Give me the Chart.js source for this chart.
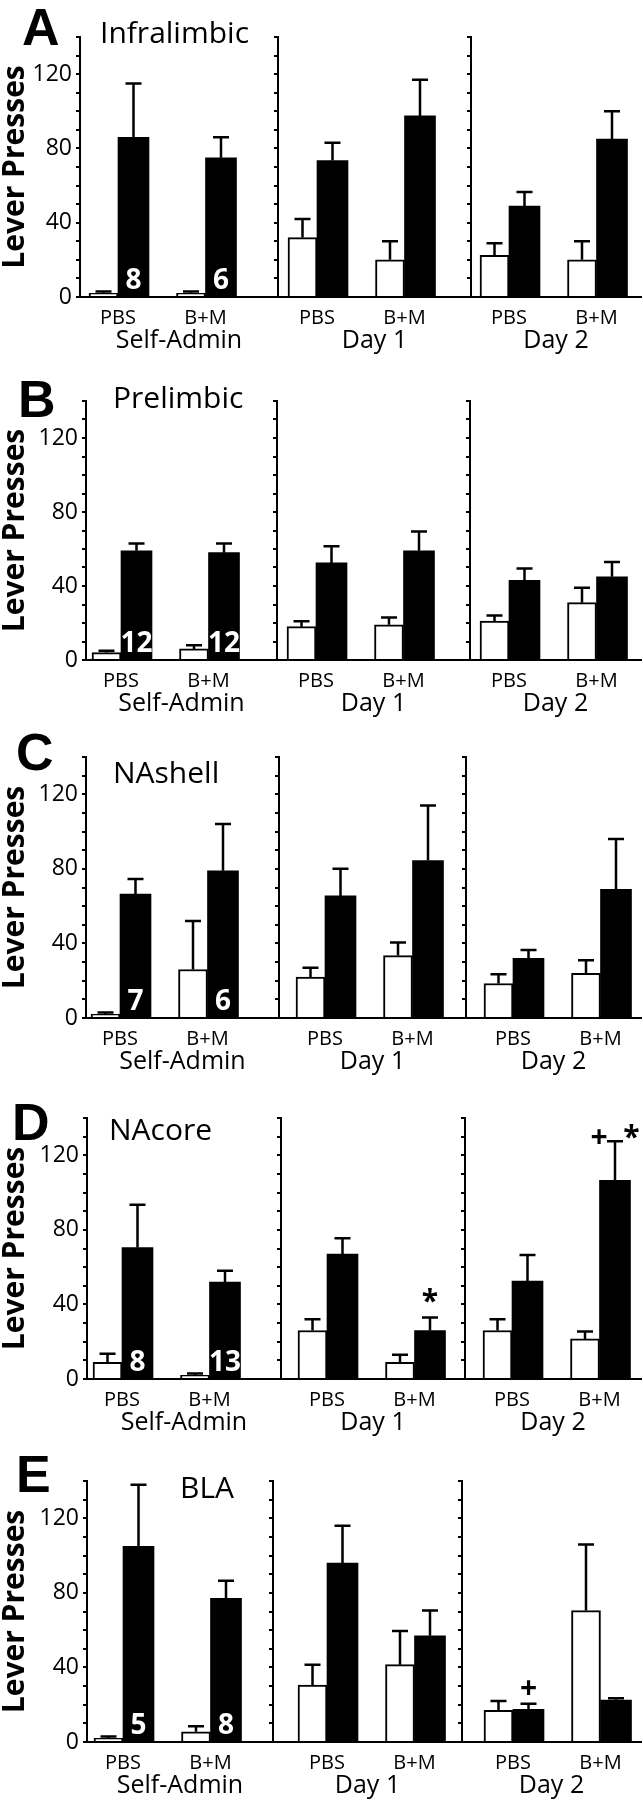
<!DOCTYPE html>
<html>
<head>
<meta charset="utf-8">
<script src="https://cdn.jsdelivr.net/npm/chart.js@4.4.1/dist/chart.umd.min.js"></script>
<style>
  html, body { margin: 0; padding: 0; background: #fff; }
  #fig { position: relative; width: 643px; height: 1800px; overflow: hidden; }
  #fig canvas { position: absolute; left: 0; }
</style>
</head>
<body>
<div id="fig"></div>
<script>
// ---- data ----
const letters = ['A', 'B', 'C', 'D', 'E'];
const regions = ['Infralimbic', 'Prelimbic', 'NAshell', 'NAcore', 'BLA'];
const phases = ['Self-Admin', 'Day 1', 'Day 2'];
const groups = ['PBS', 'B+M'];
const yLabels = [0, 40, 80, 120];

// [phase][group] : open bars, filled bars, and their error (+SEM)
const ilOpen = [[2, 2], [32, 20], [22.5, 20]];
const ilOpenErr = [[1, 1], [10, 10], [6.5, 10]];
const ilFilled = [[86, 75], [73.5, 97.5], [49, 85]];
const ilFilledErr = [[29, 11], [9.5, 19.5], [7.5, 15]];
const ilN = [8, 6];

const plOpen = [[4, 6], [18, 19], [21, 31]];
const plOpenErr = [[1, 2], [3, 4], [3, 8]];
const plFilled = [[59, 58], [52.5, 59], [43, 45]];
const plFilledErr = [[4, 5], [9, 10.5], [6.5, 8]];
const plN = [12, 12];

const shOpen = [[2, 26], [22, 33.5], [18.5, 24]];
const shOpenErr = [[1, 26], [5, 7], [5, 7]];
const shFilled = [[66.5, 79], [65.5, 84.5], [32, 69]];
const shFilledErr = [[8, 25], [14.5, 29.5], [4.5, 27]];
const shN = [7, 6];

const coOpen = [[9, 2], [26, 9], [26, 21.5]];
const coOpenErr = [[4.5, 1], [6, 4], [6, 4]];
const coFilled = [[70.5, 52], [67, 26], [52.5, 106.5]];
const coFilledErr = [[23, 6], [8.5, 7], [14, 21]];
const coN = [8, 13];

const blaOpen = [[2, 5.5], [30.5, 41.5], [17, 70.5]];
const blaOpenErr = [[1, 3], [11, 18], [5, 35.5]];
const blaFilled = [[105, 77], [96, 57], [17.5, 22.5]];
const blaFilledErr = [[33, 9.5], [20, 13.5], [3, 1]];
const blaN = [5, 8];

// significance marks above filled bars
const marks = [
  { region: 3, phase: 1, group: 1, text: '*' },
  { region: 3, phase: 2, group: 1, text: '+  *' },
  { region: 4, phase: 2, group: 0, text: '+' },
];

const panels = [
  { open: ilOpen, openErr: ilOpenErr, filled: ilFilled, filledErr: ilFilledErr, n: ilN },
  { open: plOpen, openErr: plOpenErr, filled: plFilled, filledErr: plFilledErr, n: plN },
  { open: shOpen, openErr: shOpenErr, filled: shFilled, filledErr: shFilledErr, n: shN },
  { open: coOpen, openErr: coOpenErr, filled: coFilled, filledErr: coFilledErr, n: coN },
  { open: blaOpen, openErr: blaOpenErr, filled: blaFilled, filledErr: blaFilledErr, n: blaN },
];

// ---- layout (page pixels) ----
const FONT = '"Open Sans", sans-serif';
const PADT = 40, XH = 62, GAP = 87.5, END = 641;
const markDy = [0, 12, 0];
const rowLayout = [
  { top: 37, zero: 297, axes: [80, 278, 471], joins: [118, 317, 509], letter: [22, 45], title: [100, 43] },
  { top: 401, zero: 660, axes: [86, 277, 470], joins: [121, 316, 509], letter: [18, 417], title: [113, 408] },
  { top: 757, zero: 1018, axes: [86, 279, 466], joins: [120, 325, 513], letter: [16, 770], title: [113, 783] },
  { top: 1118, zero: 1379, axes: [87, 281, 465], joins: [122, 327, 512], letter: [12, 1140], title: [109, 1140] },
  { top: 1481, zero: 1742, axes: [87, 273, 462], joins: [123, 327, 513], letter: [16, 1492], title: [180, 1498] },
];

const fig = document.getElementById('fig');

function decor(r, p, canvasTop) {
  const L = rowLayout[r];
  return {
    id: 'decor' + r + p,
    afterDatasetsDraw(chart) {
      const ctx = chart.ctx, y = chart.scales.y;
      ctx.save();
      ctx.strokeStyle = '#000';
      ctx.lineWidth = 2.5;
      chart.data.datasets.forEach((ds, di) => {
        chart.getDatasetMeta(di).data.forEach((bar, i) => {
          const t = y.getPixelForValue(ds.data[i].y + ds.err[i]);
          ctx.beginPath();
          ctx.moveTo(bar.x, bar.y);
          ctx.lineTo(bar.x, t);
          ctx.moveTo(bar.x - 8, t);
          ctx.lineTo(bar.x + 8, t);
          ctx.stroke();
        });
      });
      ctx.restore();
    },
    afterDraw(chart) {
      const ctx = chart.ctx, y = chart.scales.y;
      const filledMeta = chart.getDatasetMeta(1);
      const filledDs = chart.data.datasets[1];
      ctx.save();
      ctx.textAlign = 'center';
      ctx.textBaseline = 'alphabetic';
      if (p === 0) {
        ctx.fillStyle = '#fff';
        ctx.font = 'bold 28px ' + FONT;
        filledMeta.data.forEach((bar, i) => {
          ctx.fillText(String(panels[r].n[i]), bar.x, y.getPixelForValue(0) - 8);
        });
        ctx.fillStyle = '#000';
        ctx.textAlign = 'left';
        ctx.font = 'bold 52px "Liberation Sans", Arial, sans-serif';
        ctx.fillText(letters[r], L.letter[0], L.letter[1] - canvasTop);
        ctx.font = '30px ' + FONT;
        ctx.fillText(regions[r], L.title[0], L.title[1] - canvasTop);
      }
      ctx.fillStyle = '#000';
      ctx.textAlign = 'center';
      ctx.font = 'bold 30px ' + FONT;
      marks.forEach((m, k) => {
        if (m.region !== r || m.phase !== p) return;
        const bar = filledMeta.data[m.group];
        const t = y.getPixelForValue(filledDs.data[m.group].y + filledDs.err[m.group]);
        ctx.fillText(m.text, bar.x, t - 6 + markDy[k]);
      });
      ctx.restore();
    }
  };
}

function makeChart(r, p) {
  const L = rowLayout[r];
  const P = panels[r];
  const left = L.axes[p];
  const right = p < 2 ? L.axes[p + 1] : END;
  const join = L.joins[p];
  const top = L.top - PADT;
  const h = L.zero - L.top + PADT + XH;
  const cv = document.createElement('canvas');
  cv.width = 643;
  cv.height = h;
  cv.style.top = top + 'px';
  fig.appendChild(cv);
  const pts = vals => groups.map((g, i) => ({ x: i + 1, y: vals[p][i] }));

  new Chart(cv, {
    type: 'bar',
    data: {
      datasets: [
        {
          label: 'open', data: pts(P.open), err: P.openErr[p],
          backgroundColor: '#fff', borderColor: '#000', borderWidth: 2, barThickness: 29,
        },
        {
          label: 'filled', data: pts(P.filled), err: P.filledErr[p],
          backgroundColor: '#000', borderColor: '#000', borderWidth: 0, barThickness: 31,
        }
      ]
    },
    options: {
      responsive: false,
      animation: false,
      events: [],
      layout: { padding: { left: 0, right: 643 - right, top: PADT, bottom: 0 } },
      plugins: { legend: { display: false }, tooltip: { enabled: false } },
      scales: {
        x: {
          type: 'linear',
          offset: false,
          min: 1 - (join - left) / GAP,
          max: 2 + (right - join - GAP) / GAP,
          afterBuildTicks: s => { s.ticks = groups.map((g, i) => ({ value: i + 1 })); },
          afterFit: s => { s.height = XH; },
          grid: { display: false, drawTicks: false },
          border: { display: true, color: '#000', width: 2, z: 1 },
          ticks: {
            callback: v => groups[v - 1],
            color: '#000', font: { family: FONT, size: 20 }, padding: 9,
            maxRotation: 0, autoSkip: false,
          },
          title: {
            display: true, text: phases[p], color: '#000',
            font: { family: FONT, size: 25, lineHeight: 1.2 }, padding: { top: 0, bottom: 3 },
          }
        },
        y: {
          min: 0, max: 140,
          afterBuildTicks: s => { s.ticks = Array.from({ length: 15 }, (_, k) => ({ value: k * 10 })); },
          afterFit: s => { s.width = left; },
          grid: { drawOnChartArea: false, drawTicks: true, tickLength: 4, lineWidth: 2, color: '#000' },
          border: { display: true, color: '#000', width: 2, z: 1 },
          ticks: {
            callback: v => (p === 0 && yLabels.includes(v)) ? String(v) : '',
            color: '#000', font: { family: FONT, size: 23 }, padding: 4, autoSkip: false,
          },
          title: {
            display: p === 0, text: 'Lever Presses', color: '#000',
            font: { family: FONT, size: 30, weight: 'bold', lineHeight: 1.0 }, padding: { top: 0, bottom: 0 },
          }
        }
      }
    },
    plugins: [decor(r, p, top)]
  });
}

regions.forEach((reg, r) => phases.forEach((ph, p) => makeChart(r, p)));
</script>
</body>
</html>
